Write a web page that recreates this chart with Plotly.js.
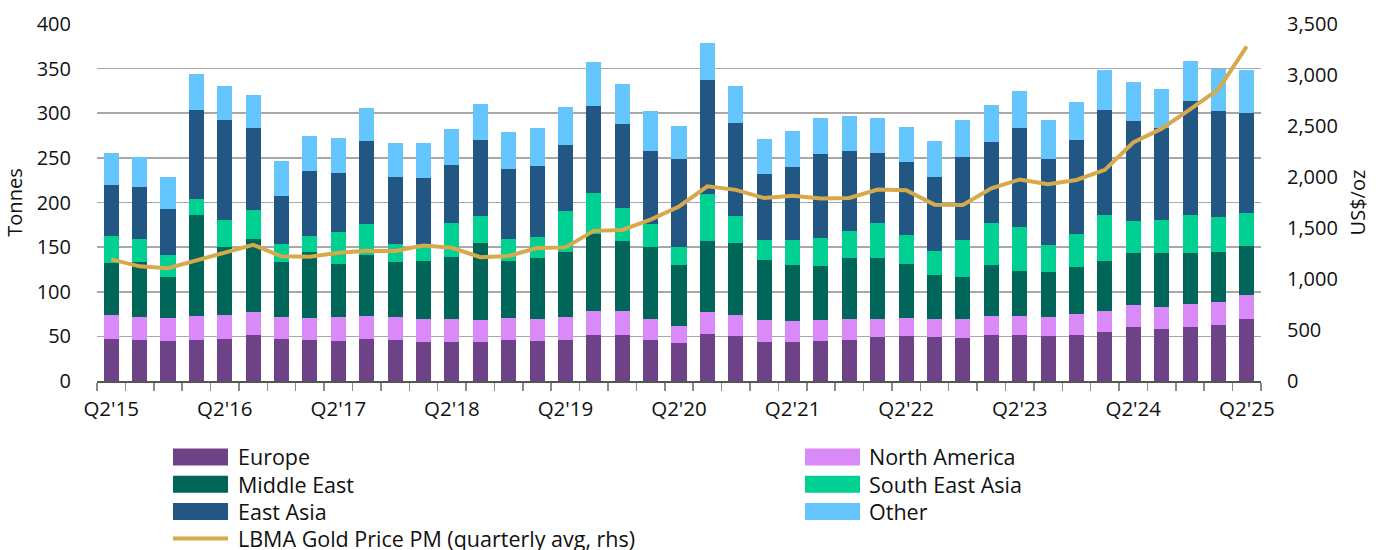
<!DOCTYPE html>
<html>
<head>
<meta charset="utf-8">
<script src="https://cdn.plot.ly/plotly-3.0.1.min.js"></script>
<style>html,body{margin:0;padding:0;background:#fff;}#chart{width:1385px;height:550px;}</style>
</head>
<body>
<div id="chart"></div>
<script>
var quarters = ["Q2'15","Q3'15","Q4'15","Q1'16","Q2'16","Q3'16","Q4'16","Q1'17","Q2'17","Q3'17","Q4'17",
  "Q1'18","Q2'18","Q3'18","Q4'18","Q1'19","Q2'19","Q3'19","Q4'19","Q1'20","Q2'20","Q3'20","Q4'20",
  "Q1'21","Q2'21","Q3'21","Q4'21","Q1'22","Q2'22","Q3'22","Q4'22","Q1'23","Q2'23","Q3'23","Q4'23",
  "Q1'24","Q2'24","Q3'24","Q4'24","Q1'25","Q2'25"];
var europe = [47,46,45,46,47,52,47,46,45,47,46, 44,44,44,46,45,46,52,52,46,43,53,50, 44,44,45,46,49,50,49,48,51,51,50,52, 55,60,58,60,63,69];
var northAmerica = [27,26,26,27,27,25,25,25,27,26,26, 25,26,24,25,25,26,26,26,24,19,24,24, 24,23,23,24,21,21,21,22,22,22,22,23, 23,25,25,26,26,27];
var middleEast = [58,61,45,113,76,82,61,73,59,68,61, 65,69,87,63,68,72,87,79,80,68,80,81, 68,63,61,68,68,60,49,46,57,50,50,53, 56,58,60,57,55,55];
var southEastAsia = [30,26,25,18,30,33,20,19,36,35,21, 19,38,30,25,23,46,46,37,26,20,52,30, 22,28,31,30,39,33,27,42,47,49,30,37, 52,36,37,43,40,37];
var eastAsia = [58,58,52,100,113,91,54,72,66,93,75, 74,65,85,79,80,74,97,94,82,99,128,104, 74,82,94,90,78,81,83,93,91,111,97,105, 118,112,103,128,118,112];
var other = [35,34,36,40,38,37,39,40,39,37,38, 40,40,40,41,43,43,49,45,45,37,42,42, 39,40,41,39,40,40,40,41,41,42,43,43, 45,44,44,45,48,48];
var goldPrice = [1192,1124,1106,1183,1260,1335,1222,1219,1257,1278,1275,1329,1306,1213,1226,1304,1310,1472,1481,1583,1711,1909,1874,1794,1816,1790,1795,1877,1871,1729,1726,1890,1976,1929,1971,2070,2338,2474,2663,2860,3280];

var seriesNames = ["Europe","North America","Middle East","South East Asia","East Asia","Other"];
var seriesValues = [europe, northAmerica, middleEast, southEastAsia, eastAsia, other];
var seriesColors = ["#6e4287","#da89f8","#00665a","#00d193","#225784","#64c6fd"];
var lineName = "LBMA Gold Price PM (quarterly avg, rhs)";
var lineColor = "#d6aa4c";

var FONT = "Open Sans, Noto Sans, sans-serif";
var traces = [];
for (var i = 0; i < seriesNames.length; i++) {
  traces.push({
    type: "bar", name: seriesNames[i], x: quarters, y: seriesValues[i],
    marker: {color: seriesColors[i], line: {width: 0}},
    hoverinfo: "skip", showlegend: false
  });
}
traces.push({
  type: "scatter", mode: "lines", name: lineName, x: quarters, y: goldPrice, yaxis: "y2",
  line: {color: lineColor, width: 4}, hoverinfo: "skip", showlegend: false
});

// plot area in pixels
var L = 97, R = 1261, T = 24, B = 381, W = 1385, H = 550;
function px2x(p){ return (p - L) / (R - L); }
function px2y(p){ return (B - p) / (B - T); }

// custom legend (two columns)
var legendEntries = [];
for (var i = 0; i < seriesNames.length; i++) legendEntries.push({name: seriesNames[i], color: seriesColors[i], kind: "bar"});
legendEntries.push({name: lineName, color: lineColor, kind: "line"});
var colSwatch = [173, 805], colText = [238, 869];
var rowY0 = 457, rowStep = 27.2;
var shapes = [], annotations = [];
legendEntries.forEach(function(e, k){
  var c = k % 2, r = Math.floor(k / 2);
  var cy = rowY0 + r * rowStep;
  if (e.kind === "bar") {
    shapes.push({type: "rect", xref: "paper", yref: "paper",
      x0: px2x(colSwatch[c]), x1: px2x(colSwatch[c] + 55), y0: px2y(cy + 8.5), y1: px2y(cy - 8.5),
      fillcolor: e.color, line: {width: 0}});
  } else {
    shapes.push({type: "line", xref: "paper", yref: "paper",
      x0: px2x(colSwatch[c]), x1: px2x(colSwatch[c] + 55), y0: px2y(cy), y1: px2y(cy),
      line: {color: e.color, width: 4}});
  }
  annotations.push({xref: "paper", yref: "paper", x: px2x(colText[c] - 2), y: px2y(cy),
    xanchor: "left", yanchor: "middle", text: e.name, showarrow: false,
    font: {family: FONT, size: 21.5, color: "#111"}});
});

var layout = {
  width: W, height: H,
  margin: {l: L, r: W - R, t: T, b: H - B, pad: 0},
  paper_bgcolor: "#fff", plot_bgcolor: "#fff",
  barmode: "stack", bargap: 0.47,
  showlegend: false,
  font: {family: FONT, size: 20, color: "#111"},
  xaxis: {
    type: "category", range: [-0.5, quarters.length - 0.5],
    tickmode: "array", tickvals: quarters,
    ticktext: quarters.map(function(q){ return q.indexOf("Q2") === 0 ? q : ""; }),
    tickson: "boundaries", ticks: "outside", ticklen: 8, tickwidth: 1.5, tickcolor: "#8a8a8a",
    ticklabelstandoff: 9,
    tickangle: 0, showgrid: false, zeroline: false,
    showline: true, linecolor: "#555", linewidth: 1.5,
    tickfont: {family: FONT, size: 20.5, color: "#111"}
  },
  yaxis: {
    range: [0, 400], dtick: 50, tick0: 0,
    showgrid: true, gridcolor: "#a8a8a8", gridwidth: 1.7,
    zeroline: false, showline: false,
    ticks: "outside", ticklen: 21, tickcolor: "rgba(0,0,0,0)",
    tickfont: {family: FONT, size: 20, color: "#111"},
    title: {text: "Tonnes", standoff: 8, font: {family: FONT, size: 20, color: "#111"}}
  },
  yaxis2: {
    overlaying: "y", side: "right", range: [0, 3500], dtick: 500, tick0: 0,
    tickformat: ",", showgrid: false, zeroline: false, showline: false,
    ticks: "outside", ticklen: 21, tickcolor: "rgba(0,0,0,0)",
    tickfont: {family: FONT, size: 20, color: "#111"},
    title: {text: "US$/oz", standoff: 14, font: {family: FONT, size: 20, color: "#111"}}
  },
  shapes: shapes,
  annotations: annotations
};

Plotly.newPlot("chart", traces, layout, {staticPlot: true, displayModeBar: false});
</script>
</body>
</html>
